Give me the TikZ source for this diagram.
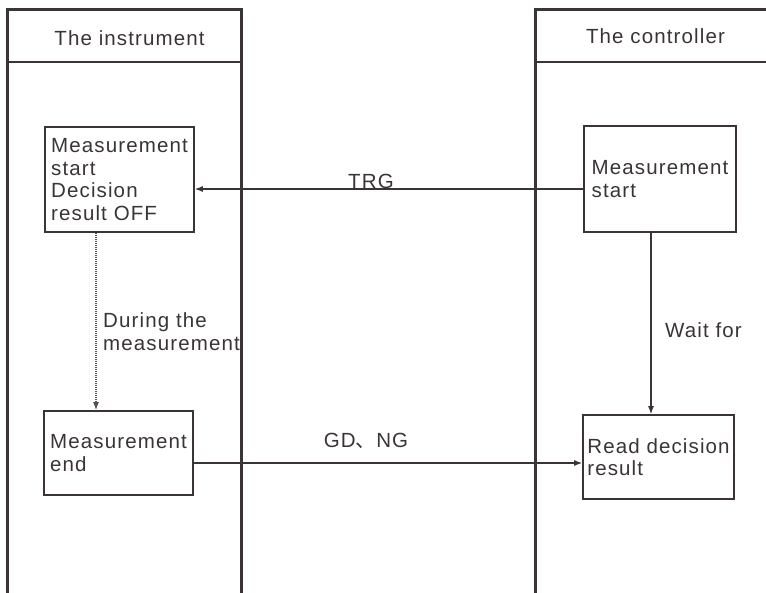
\documentclass[tikz,border=0pt]{standalone}
\usepackage{fontspec}
\setmainfont{Liberation Sans}[LetterSpace=5.5]
\newfontfamily\cjk{Noto Sans CJK SC}
\usetikzlibrary{arrows.meta}
\definecolor{ink}{RGB}{58,52,52}

\begin{document}
\begin{tikzpicture}[x=1pt, y=-1pt, >={Latex[length=8pt,width=6pt]},
    font=\fontsize{20.5}{22.5}\selectfont,
    lane/.style={line width=3pt, ink},
    box/.style={draw=ink, line width=1.6pt, align=left, text=ink, inner sep=0pt},
    flow/.style={->, line width=1.3pt, ink},
    lbl/.style={text=ink, inner sep=0pt}]

    % 1. Khung hình
    \useasboundingbox (0, 0) rectangle (766, 592);

    % 2. Hai làn: thiết bị và bộ điều khiển
    \draw[lane] (7, 600) -- (7, 9) -- (241, 9) -- (241, 600);
    \draw[ink, line width=1.5pt] (7, 62) -- (241, 62);
    \node[lbl, anchor=base] (instr) at (129.5, 45) {The instrument};

    \draw[lane] (535, 600) -- (535, 9) -- (770, 9);
    \draw[ink, line width=1.5pt] (535, 62) -- (770, 62);
    \node[lbl, anchor=base] (ctrl) at (655.5, 43.5) {The controller};

    % 3. Các hộp
    \node[box, minimum width=149pt, minimum height=105pt] (mstart) at (119.5, 179.5)
        {Measurement\\start\\Decision\\result OFF};
    \node[box, minimum width=152pt, minimum height=106pt] (cstart) at (660, 179)
        {Measurement\\start};
    \node[box, minimum width=149pt, minimum height=84pt] (mend) at (118.5, 453)
        {Measurement\\end};
    \node[box, minimum width=151pt, minimum height=84pt] (rdres) at (658.5, 457)
        {Read decision\\result};

    % 4. Các mũi tên
    \draw[flow] ([yshift=-10pt]cstart.west) -- ([yshift=-10pt]cstart.west -| mstart.east);
    \node[lbl, anchor=base] (trg) at (371, 188) {TRG};

    \draw[->, ink!85, line width=1.2pt, dash pattern=on 1pt off 1pt] ([xshift=-23.5pt]mstart.south)
        -- ([xshift=-23.5pt]mstart.south |- mend.north);
    \node[lbl, align=left, anchor=north west] (during) at (103, 312.5)
        {During the\\measurement};

    \draw[flow] ([xshift=-9pt]cstart.south) -- ([xshift=-9pt]cstart.south |- rdres.north);
    \node[lbl, anchor=base west] (wait) at (665, 337) {Wait for};

    \draw[flow] ([yshift=-10pt]mend.east) -- ([yshift=-10pt]mend.east -| rdres.west);
    \node[lbl, anchor=base] (gdng) at (366, 447) {GD{\cjk 、}NG};

\end{tikzpicture}
\end{document}
